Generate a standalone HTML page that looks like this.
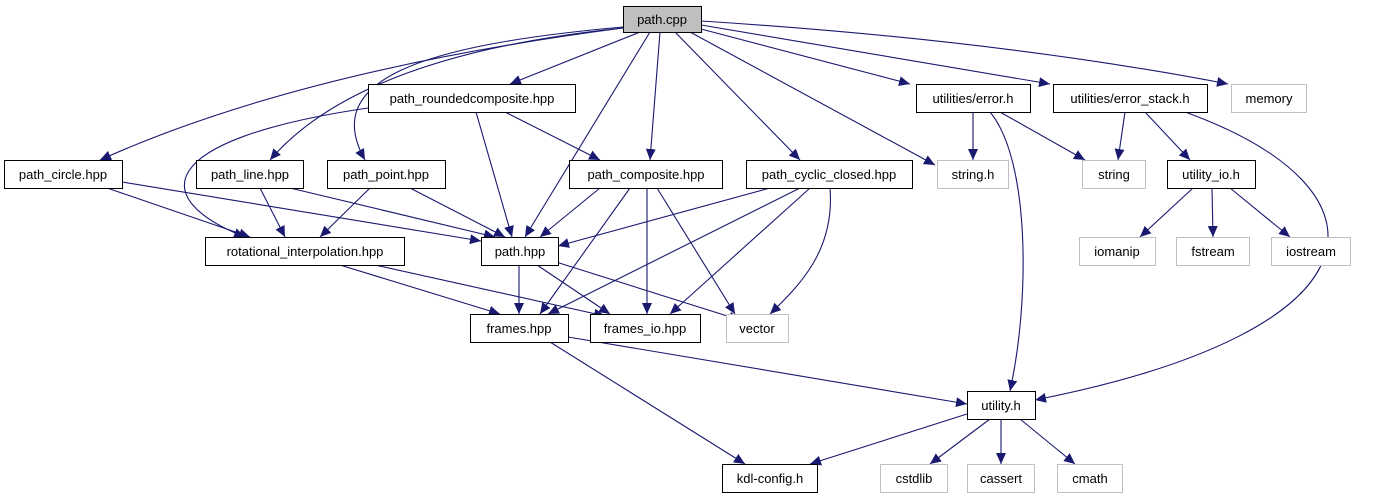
<!DOCTYPE html>
<html><head><meta charset="utf-8"><style>
html,body{margin:0;padding:0;background:#fff;}
svg{display:block;}
text{font-family:"Liberation Sans",sans-serif;font-size:13px;text-anchor:middle;fill:#000;}
</style></head><body>
<svg width="1380" height="504" viewBox="0 0 1380 504" xmlns="http://www.w3.org/2000/svg">
<defs>
<marker id="a" markerUnits="userSpaceOnUse" markerWidth="12" markerHeight="10" refX="11" refY="5" orient="auto">
<polygon points="0,0 11,5 0,10" fill="#191970"/>
</marker>
</defs>
<g fill="none" stroke="#191970" stroke-width="1.1" marker-end="url(#a)">
<path d="M623,28 Q300,70 100,160"/>
<path d="M623,28 Q360,55 270,160"/>
<path d="M623,27 C420,45 320,80 365,160"/>
<path d="M640,32 L510,84"/>
<path d="M650,32 L525,237"/>
<path d="M660,32 L650,160"/>
<path d="M675,32 L800,160"/>
<path d="M690,32 L935,165"/>
<path d="M701,29 L910,84"/>
<path d="M701,25 L1050,84"/>
<path d="M701,21 Q1000,40 1228,84"/>
<path d="M368,108 C150,140 150,200 245,237"/>
<path d="M476,112 L512,237"/>
<path d="M505,112 L600,160"/>
<path d="M973,112 L973,160"/>
<path d="M1000,112 L1085,160"/>
<path d="M990,112 C1030,160 1030,300 1010,391"/>
<path d="M1125,112 L1118,160"/>
<path d="M1145,112 L1190,160"/>
<path d="M1185,112 C1400,190 1390,330 1035,400"/>
<path d="M1193,188 L1140,237"/>
<path d="M1212,188 L1213,237"/>
<path d="M1230,188 L1290,237"/>
<path d="M107,188 L250,237"/>
<path d="M122,182 L481,241"/>
<path d="M260,188 L285,237"/>
<path d="M290,188 L495,237"/>
<path d="M370,188 L320,237"/>
<path d="M410,188 L505,237"/>
<path d="M600,188 L540,237"/>
<path d="M630,188 L540,314"/>
<path d="M647,188 L647,314"/>
<path d="M657,188 L735,314"/>
<path d="M770,188 L558,246"/>
<path d="M800,188 L548,314"/>
<path d="M810,188 L670,314"/>
<path d="M830,188 C835,250 800,285 770,314"/>
<path d="M340,265 L500,314"/>
<path d="M375,265 L605,316"/>
<path d="M519,265 L519,314"/>
<path d="M537,265 L610,314"/>
<path d="M556,262 L740,320"/>
<path d="M568,337 L967,404"/>
<path d="M550,342 L745,464"/>
<path d="M967,414 L810,464"/>
<path d="M990,419 L930,464"/>
<path d="M1001,419 L1001,464"/>
<path d="M1020,419 L1075,464"/>
</g>
<g stroke-width="1">
<rect x="623.5" y="6.5" width="78" height="26" fill="#bfbfbf" stroke="#000"/>
<g fill="#fff" stroke="#000">
<rect x="368.5" y="84.5" width="207" height="28"/>
<rect x="916.5" y="84.5" width="114" height="28"/>
<rect x="1053.5" y="84.5" width="154" height="28"/>
<rect x="4.5" y="160.5" width="118" height="28"/>
<rect x="196.5" y="160.5" width="107" height="28"/>
<rect x="327.5" y="160.5" width="118" height="28"/>
<rect x="569.5" y="160.5" width="153" height="28"/>
<rect x="746.5" y="160.5" width="166" height="28"/>
<rect x="1167.5" y="160.5" width="88" height="28"/>
<rect x="205.5" y="237.5" width="199" height="28"/>
<rect x="481.5" y="237.5" width="77" height="28"/>
<rect x="470.5" y="314.5" width="98" height="28"/>
<rect x="590.5" y="314.5" width="110" height="28"/>
<rect x="967.5" y="391.5" width="68" height="28"/>
<rect x="722.5" y="464.5" width="95" height="28"/>
</g>
<g fill="#fff" stroke="#bfbfbf">
<rect x="1231.5" y="84.5" width="75" height="28"/>
<rect x="937.5" y="160.5" width="71" height="28"/>
<rect x="1082.5" y="160.5" width="63" height="28"/>
<rect x="1079.5" y="237.5" width="76" height="28"/>
<rect x="1176.5" y="237.5" width="73" height="28"/>
<rect x="1271.5" y="237.5" width="79" height="28"/>
<rect x="726.5" y="314.5" width="62" height="28"/>
<rect x="880.5" y="464.5" width="67" height="28"/>
<rect x="967.5" y="464.5" width="67" height="28"/>
<rect x="1057.5" y="464.5" width="65" height="28"/>
</g>
</g>
<g>
<text x="662" y="24">path.cpp</text>
<text x="472" y="103">path_roundedcomposite.hpp</text>
<text x="973" y="103">utilities/error.h</text>
<text x="1130" y="103">utilities/error_stack.h</text>
<text x="1269" y="103">memory</text>
<text x="63" y="179">path_circle.hpp</text>
<text x="250" y="179">path_line.hpp</text>
<text x="386" y="179">path_point.hpp</text>
<text x="646" y="179">path_composite.hpp</text>
<text x="829" y="179">path_cyclic_closed.hpp</text>
<text x="973" y="179">string.h</text>
<text x="1114" y="179">string</text>
<text x="1211" y="179">utility_io.h</text>
<text x="305" y="256">rotational_interpolation.hpp</text>
<text x="520" y="256">path.hpp</text>
<text x="1117" y="256">iomanip</text>
<text x="1213" y="256">fstream</text>
<text x="1311" y="256">iostream</text>
<text x="519" y="333">frames.hpp</text>
<text x="645" y="333">frames_io.hpp</text>
<text x="757" y="333">vector</text>
<text x="1001" y="410">utility.h</text>
<text x="770" y="483">kdl-config.h</text>
<text x="914" y="483">cstdlib</text>
<text x="1001" y="483">cassert</text>
<text x="1090" y="483">cmath</text>
</g>
</svg>
</body></html>
